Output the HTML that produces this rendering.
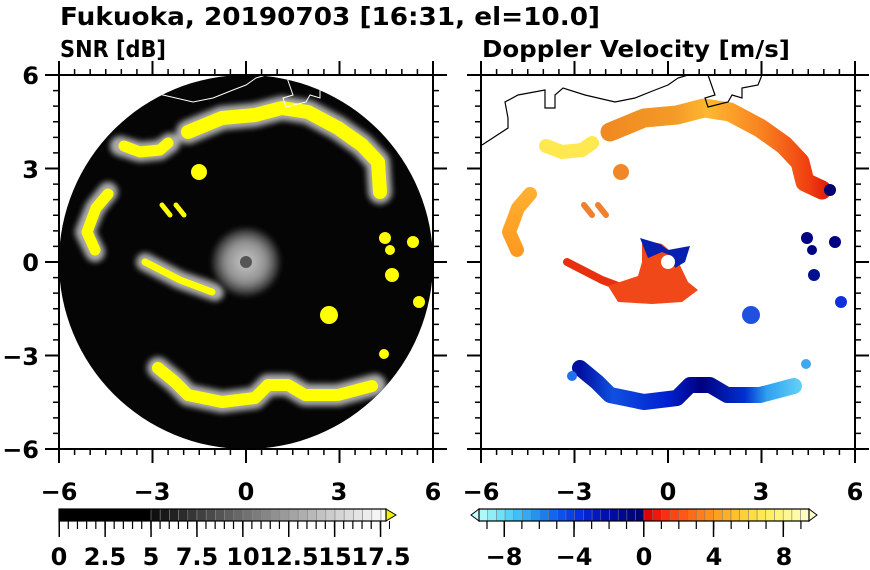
<!DOCTYPE html>
<html><head><meta charset="utf-8"><style>
html,body{margin:0;padding:0;background:#fff}
svg{display:block}
text{font-family:"DejaVu Sans","Liberation Sans",sans-serif;font-weight:bold;fill:#000}
</style></head><body>
<svg width="870" height="570" viewBox="0 0 870 570" xmlns="http://www.w3.org/2000/svg">
<defs>
<clipPath id="cl"><circle cx="246" cy="262" r="187"/></clipPath>
<filter id="bl" x="-20%" y="-20%" width="140%" height="140%"><feGaussianBlur stdDeviation="3"/></filter>
<radialGradient id="cg"><stop offset="0" stop-color="#c8c8c8"/><stop offset="0.6" stop-color="#909090"/><stop offset="1" stop-color="#202020"/></radialGradient>
<linearGradient id="topg" gradientUnits="userSpaceOnUse" x1="608" y1="0" x2="830" y2="0">
<stop offset="0" stop-color="#f08a20"/><stop offset="0.3" stop-color="#f49a28"/><stop offset="0.45" stop-color="#ffb830"/><stop offset="0.7" stop-color="#f88020"/><stop offset="0.9" stop-color="#f04010"/><stop offset="1" stop-color="#e01808"/></linearGradient>
<linearGradient id="botg" gradientUnits="userSpaceOnUse" x1="580" y1="0" x2="800" y2="0">
<stop offset="0" stop-color="#0010a0"/><stop offset="0.15" stop-color="#1050e0"/><stop offset="0.4" stop-color="#0020d0"/><stop offset="0.55" stop-color="#000080"/><stop offset="0.75" stop-color="#0030d0"/><stop offset="0.85" stop-color="#30a0f0"/><stop offset="1" stop-color="#60d0f8"/></linearGradient>
<linearGradient id="leftg" gradientUnits="userSpaceOnUse" x1="0" y1="190" x2="0" y2="255">
<stop offset="0" stop-color="#ffb030"/><stop offset="1" stop-color="#ff9820"/></linearGradient>
</defs>

<text x="60" y="25" font-size="25" textLength="540" lengthAdjust="spacingAndGlyphs">Fukuoka, 20190703 [16:31, el=10.0]</text>
<text x="60" y="57" font-size="23" textLength="106" lengthAdjust="spacingAndGlyphs">SNR [dB]</text>
<text x="482" y="57" font-size="23" textLength="308" lengthAdjust="spacingAndGlyphs">Doppler Velocity [m/s]</text>

<!-- LEFT PANEL -->
<g clip-path="url(#cl)">
<rect x="59" y="75" width="374" height="374" fill="#050505"/>
<g fill="none" stroke-linecap="round" stroke-linejoin="round">
<g stroke="#c0c0c0" filter="url(#bl)" opacity="0.9">
<path stroke-width="24" d="M188,132 L222,118 L255,115 L282,108 L308,112 L338,128 L362,145 L378,162 L380,192"/>
<path stroke-width="20" d="M120,146 L140,152 L160,150 L170,143"/>
<path stroke-width="20" d="M108,192 L95,208 L85,232 L95,252"/>
<path stroke-width="18" d="M145,262 L180,280 L215,292"/>
<path stroke-width="22" d="M158,368 L175,382 L188,395 L222,402 L255,398 L268,385 L288,385 L305,395 L338,395 L375,385"/>
</g>
<g stroke="#ffff00">
<path stroke-width="14" d="M188,132 L222,118 L255,115 L282,108 L308,112 L338,128 L362,145 L378,162 L380,192"/>
<path stroke-width="11" d="M124,146 L140,152 L160,150 L168,143"/>
<path stroke-width="11" d="M108,194 L96,208 L87,232 L95,250"/>
<path stroke-width="7" d="M145,262 L180,280 L212,292"/>
<path stroke-width="5" d="M162,205 L170,215 M176,205 L184,215"/>
<path stroke-width="12" d="M158,368 L175,382 L188,395 L222,402 L255,398 L268,385 L288,385 L305,395 L338,395 L372,386"/>
</g>
<g fill="#ffff00">
<circle cx="199" cy="172" r="8"/>
<circle cx="385" cy="238" r="6"/><circle cx="390" cy="250" r="5"/><circle cx="392" cy="275" r="7"/>
<circle cx="413" cy="242" r="6"/><circle cx="419" cy="302" r="6"/><circle cx="329" cy="315" r="9"/>
<circle cx="384" cy="354" r="5"/>
</g>
</g>
<circle cx="246" cy="262" r="34" fill="url(#cg)" filter="url(#bl)"/>
<circle cx="246" cy="262" r="6" fill="#555"/>
<path fill="none" stroke="#fff" stroke-width="1" d="M60,145 L86,128 L86,118 L83,102 L96,95 L123,90 L123,108 L133,108 L133,95 L141,88 L163,95 L193,102 L213,98 L233,90 L246,85 L256,78 L266,75 M286,75 L293,95 L283,98 L286,107 L306,102 L310,95 L320,98 L320,88 L336,85 L340,75"/>
</g>
<rect x="59" y="75" width="374" height="374" fill="none" stroke="#000" stroke-width="2"/>

<!-- RIGHT PANEL -->
<g fill="none" stroke-linecap="round" stroke-linejoin="round">
<path stroke="url(#topg)" stroke-width="19" d="M610,132 L644,118 L677,115 L704,108 L730,112 L760,128 L784,145 L800,162 L805,182 L822,190"/>
<path stroke="#ffe850" stroke-width="14" d="M546,146 L562,152 L582,150 L592,143"/>
<path stroke="url(#leftg)" stroke-width="14" d="M530,194 L518,208 L509,232 L517,250"/>
<path stroke="#e83010" stroke-width="8" d="M567,262 L602,280 L634,292"/>
<path stroke="#f08030" stroke-width="6" d="M584,205 L592,215 M598,205 L606,215"/>
<path stroke="url(#botg)" stroke-width="16" d="M580,368 L597,382 L610,395 L644,402 L677,398 L690,385 L710,385 L727,395 L760,395 L794,386"/>
</g>
<path fill="#f04818" d="M642,240 L662,244 L675,255 L688,282 L698,290 L682,302 L652,304 L618,302 L608,286 L638,276 L642,262 Z"/>
<path fill="#0820b0" d="M640,238 L660,244 L668,250 L690,246 L685,262 L675,268 L672,256 L662,252 L648,258 Z"/>
<circle cx="668" cy="262" r="7" fill="#fff"/>
<g>
<circle cx="621" cy="172" r="8" fill="#f08828"/>
<circle cx="807" cy="238" r="6" fill="#000080"/><circle cx="812" cy="250" r="5" fill="#000080"/><circle cx="814" cy="275" r="6" fill="#001090"/>
<circle cx="835" cy="242" r="6" fill="#000080"/><circle cx="841" cy="302" r="6" fill="#1030e0"/><circle cx="751" cy="315" r="9" fill="#2050e0"/>
<circle cx="806" cy="364" r="5" fill="#40a8f0"/><circle cx="572" cy="376" r="5" fill="#2070f0"/>
<circle cx="830" cy="190" r="6" fill="#000070"/>
</g>
<path fill="none" stroke="#000" stroke-width="1.2" d="M482,145 L508,128 L508,118 L505,102 L518,95 L545,90 L545,108 L555,108 L555,95 L563,88 L585,95 L615,102 L635,98 L655,90 L668,85 L678,78 L688,75 M708,75 L715,95 L705,98 L708,107 L728,102 L732,95 L742,98 L742,88 L758,85 L762,75"/>
<rect x="481" y="75" width="374" height="374" fill="none" stroke="#000" stroke-width="2"/>

<g stroke="#000" fill="none">
<line x1="58.25" y1="72" x2="434" y2="72" stroke-width="6" stroke-dasharray="1.5 14.083"/>
<line x1="58.25" y1="452" x2="434" y2="452" stroke-width="6" stroke-dasharray="1.5 14.083"/>
<line x1="56" y1="74.25" x2="56" y2="450" stroke-width="6" stroke-dasharray="1.5 14.083"/>
<line x1="436" y1="74.25" x2="436" y2="450" stroke-width="6" stroke-dasharray="1.5 14.083"/>
<line x1="58" y1="68" x2="435" y2="68" stroke-width="14" stroke-dasharray="2 91.5"/>
<line x1="58" y1="456" x2="435" y2="456" stroke-width="14" stroke-dasharray="2 91.5"/>
<line x1="52" y1="74" x2="52" y2="451" stroke-width="14" stroke-dasharray="2 91.5"/>
<line x1="440" y1="74" x2="440" y2="451" stroke-width="14" stroke-dasharray="2 91.5"/>
<line x1="480.25" y1="72" x2="856" y2="72" stroke-width="6" stroke-dasharray="1.5 14.083"/>
<line x1="480.25" y1="452" x2="856" y2="452" stroke-width="6" stroke-dasharray="1.5 14.083"/>
<line x1="478" y1="74.25" x2="478" y2="450" stroke-width="6" stroke-dasharray="1.5 14.083"/>
<line x1="858" y1="74.25" x2="858" y2="450" stroke-width="6" stroke-dasharray="1.5 14.083"/>
<line x1="480" y1="68" x2="857" y2="68" stroke-width="14" stroke-dasharray="2 91.5"/>
<line x1="480" y1="456" x2="857" y2="456" stroke-width="14" stroke-dasharray="2 91.5"/>
<line x1="474" y1="74" x2="474" y2="451" stroke-width="14" stroke-dasharray="2 91.5"/>
<line x1="862" y1="74" x2="862" y2="451" stroke-width="14" stroke-dasharray="2 91.5"/>
</g>

<g font-size="24" text-anchor="end">
<text x="39" y="84">6</text>
<text x="39" y="178">3</text>
<text x="39" y="271">0</text>
<text x="39" y="365">−3</text>
<text x="39" y="458">−6</text>
</g>
<g font-size="24" text-anchor="middle">
<text x="59" y="500">−6</text><text x="152" y="500">−3</text><text x="246" y="500">0</text><text x="339" y="500">3</text><text x="433" y="500">6</text>
<text x="481" y="500">−6</text><text x="574" y="500">−3</text><text x="668" y="500">0</text><text x="761" y="500">3</text><text x="855" y="500">6</text>
</g>

<g stroke="#888" stroke-width="0.6">
<rect x="59" y="509" width="92" height="12" fill="#000" stroke="none"/>
<rect x="151" y="509" width="9.2" height="12" fill="#101010"/><rect x="160.2" y="509" width="9.2" height="12" fill="#181818"/><rect x="169.4" y="509" width="9.2" height="12" fill="#222"/><rect x="178.6" y="509" width="9.2" height="12" fill="#2c2c2c"/><rect x="187.8" y="509" width="9.2" height="12" fill="#363636"/><rect x="197" y="509" width="9.2" height="12" fill="#404040"/><rect x="206.2" y="509" width="9.2" height="12" fill="#4a4a4a"/><rect x="215.4" y="509" width="9.2" height="12" fill="#545454"/><rect x="224.6" y="509" width="9.2" height="12" fill="#5e5e5e"/><rect x="233.8" y="509" width="9.2" height="12" fill="#686868"/><rect x="243" y="509" width="9.2" height="12" fill="#727272"/><rect x="252.2" y="509" width="9.2" height="12" fill="#7c7c7c"/><rect x="261.4" y="509" width="9.2" height="12" fill="#868686"/><rect x="270.6" y="509" width="9.2" height="12" fill="#909090"/><rect x="279.8" y="509" width="9.2" height="12" fill="#9a9a9a"/><rect x="289" y="509" width="9.2" height="12" fill="#a4a4a4"/><rect x="298.2" y="509" width="9.2" height="12" fill="#aeaeae"/><rect x="307.4" y="509" width="9.2" height="12" fill="#b8b8b8"/><rect x="316.6" y="509" width="9.2" height="12" fill="#c2c2c2"/><rect x="325.8" y="509" width="9.2" height="12" fill="#cccccc"/><rect x="335" y="509" width="9.2" height="12" fill="#d4d4d4"/><rect x="344.2" y="509" width="9.2" height="12" fill="#dcdcdc"/><rect x="353.4" y="509" width="9.2" height="12" fill="#e4e4e4"/><rect x="362.6" y="509" width="9.2" height="12" fill="#ececec"/><rect x="371.8" y="509" width="9.2" height="12" fill="#f4f4f4"/><rect x="381" y="509" width="5" height="12" fill="#fafafa"/>
</g>
<path d="M386,509 L396,515 L386,521 Z" fill="#f0f000" stroke="#000" stroke-width="1"/>
<rect x="59" y="509" width="327" height="12" fill="none" stroke="#000" stroke-width="1.2"/>
<g stroke="#000">
<line x1="58.5" y1="525" x2="390" y2="525" stroke-width="8" stroke-dasharray="1.2 7.98"/>
<line x1="58.5" y1="529" x2="390" y2="529" stroke-width="16" stroke-dasharray="1.5 44.4"/>
</g>
<g font-size="24" text-anchor="middle">
<text x="59" y="565">0</text><text x="105" y="565">2.5</text><text x="151" y="565">5</text><text x="197" y="565">7.5</text><text x="243" y="565">10</text><text x="289" y="565">12.5</text><text x="335" y="565">15</text><text x="381" y="565">17.5</text>
</g>

<g stroke="#777" stroke-width="0.5">
<path d="M479,509 L471,515 L479,521 Z" fill="#c8ffff" stroke="#000" stroke-width="1"/>
<rect x="479" y="509" width="8.7" height="12" fill="#b0f8f8"/><rect x="487.7" y="509" width="8.7" height="12" fill="#90eef8"/><rect x="496.4" y="509" width="8.7" height="12" fill="#70e0f8"/><rect x="505.1" y="509" width="8.7" height="12" fill="#58d0f8"/><rect x="513.8" y="509" width="8.7" height="12" fill="#40c0f8"/><rect x="522.5" y="509" width="8.7" height="12" fill="#30aaf4"/><rect x="531.2" y="509" width="8.7" height="12" fill="#2494f0"/><rect x="539.9" y="509" width="8.7" height="12" fill="#1a7ef0"/><rect x="548.6" y="509" width="8.7" height="12" fill="#1068f0"/><rect x="557.3" y="509" width="8.7" height="12" fill="#0a52f0"/><rect x="566" y="509" width="8.7" height="12" fill="#0840e8"/><rect x="574.7" y="509" width="8.7" height="12" fill="#0630e0"/><rect x="583.4" y="509" width="8.7" height="12" fill="#0422d0"/><rect x="592.1" y="509" width="8.7" height="12" fill="#0218c0"/><rect x="600.8" y="509" width="8.7" height="12" fill="#0010b0"/><rect x="609.5" y="509" width="8.7" height="12" fill="#000ca0"/><rect x="618.2" y="509" width="8.7" height="12" fill="#000890"/><rect x="626.9" y="509" width="8.7" height="12" fill="#000680"/><rect x="635.6" y="509" width="8.4" height="12" fill="#000470"/>
<rect x="644" y="509" width="8.7" height="12" fill="#e00000"/><rect x="652.7" y="509" width="8.7" height="12" fill="#f01808"/><rect x="661.4" y="509" width="8.7" height="12" fill="#f83010"/><rect x="670.1" y="509" width="8.7" height="12" fill="#fc4810"/><rect x="678.8" y="509" width="8.7" height="12" fill="#ff5a14"/><rect x="687.5" y="509" width="8.7" height="12" fill="#ff6c18"/><rect x="696.2" y="509" width="8.7" height="12" fill="#ff7e1c"/><rect x="704.9" y="509" width="8.7" height="12" fill="#ff9020"/><rect x="713.6" y="509" width="8.7" height="12" fill="#ffa024"/><rect x="722.3" y="509" width="8.7" height="12" fill="#ffb028"/><rect x="731" y="509" width="8.7" height="12" fill="#ffc030"/><rect x="739.7" y="509" width="8.7" height="12" fill="#ffd038"/><rect x="748.4" y="509" width="8.7" height="12" fill="#ffdc40"/><rect x="757.1" y="509" width="8.7" height="12" fill="#ffe850"/><rect x="765.8" y="509" width="8.7" height="12" fill="#fff060"/><rect x="774.5" y="509" width="8.7" height="12" fill="#fff478"/><rect x="783.2" y="509" width="8.7" height="12" fill="#fff890"/><rect x="791.9" y="509" width="8.7" height="12" fill="#fffaa8"/><rect x="800.6" y="509" width="8.4" height="12" fill="#fffcc0"/>
<path d="M809,509 L817,515 L809,521 Z" fill="#ffffd0" stroke="#000" stroke-width="1"/>
</g>
<rect x="479" y="509" width="330" height="12" fill="none" stroke="#000" stroke-width="1.2"/>
<g stroke="#000">
<line x1="486.4" y1="525" x2="810" y2="525" stroke-width="8" stroke-dasharray="1.2 16.24"/>
<line x1="503.5" y1="529" x2="810" y2="529" stroke-width="16" stroke-dasharray="1.5 68.26"/>
</g>
<g font-size="24" text-anchor="middle">
<text x="504" y="565">−8</text><text x="574" y="565">−4</text><text x="644" y="565">0</text><text x="714" y="565">4</text><text x="784" y="565">8</text>
</g>
</svg>
</body></html>
